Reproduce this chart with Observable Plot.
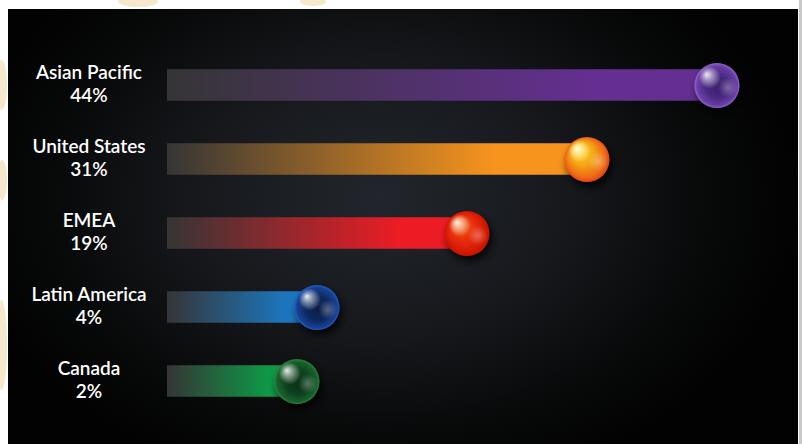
<!DOCTYPE html>
<html>
<head>
<meta charset="utf-8">
<script src="https://cdn.jsdelivr.net/npm/d3@7"></script>
<script src="https://cdn.jsdelivr.net/npm/@observablehq/plot@0.6"></script>
<style>
  html, body { margin: 0; padding: 0; }
  body { width: 802px; height: 444px; overflow: hidden; background: #ffffff; position: relative; font-family: Lato, "Open Sans", sans-serif; }
  .blob { position: absolute; background: #f5e8cc; border-radius: 50%; }
  #edge { position: absolute; left: 799px; top: 0; width: 3px; height: 444px; background: #c9c9c9; }
  #panel { position: absolute; left: 8px; top: 9px; width: 790px; height: 435px;
    background: radial-gradient(ellipse 420px 300px at 372px 190px, #22262c 0%, #16181c 45%, #070808 80%, #020202 100%); }
  #panel svg { display: block; }
</style>
</head>
<body>
<div class="blob" style="left:118px;top:-4px;width:40px;height:11px"></div>
<div class="blob" style="left:300px;top:-3px;width:26px;height:9px"></div>
<div class="blob" style="left:-4px;top:60px;width:11px;height:50px"></div>
<div class="blob" style="left:-3px;top:160px;width:10px;height:40px"></div>
<div class="blob" style="left:-4px;top:300px;width:11px;height:90px"></div>
<div id="edge"></div>
<div id="panel"></div>
<script>
// ---- data ----
const regions = ["Asian Pacific", "United States", "EMEA", "Latin America", "Canada"];
const shares = [44, 31, 19, 4, 2];

// ---- style ----
const barColors = ["#652f92", "#f7941d", "#ed1c24", "#1c75bc", "#0f9847"];
const ballStops = [
  ["#3a1f6a", "#4a2a80", "#6a3fa8", "#9a74d6"],
  ["#ffe41c", "#f6a512", "#ee6a12", "#e33c18"],
  ["#f37b1c", "#e8300c", "#d41a04", "#c21000"],
  ["#0a1c42", "#0e285e", "#163f8f", "#2566d8"],
  ["#0a3016", "#0d401f", "#17602b", "#2f8c40"]
];
const ballFocus = [[55, 55], [28, 22], [30, 24], [55, 55], [55, 55]];
const baseline = -10.94;

const data = regions.map((region, i) => ({region, share: shares[i], i}));

const svg = Plot.plot({
  width: 790,
  height: 435,
  marginLeft: 159,
  marginRight: 10,
  marginTop: 37.75,
  marginBottom: 24.75,
  style: {background: "transparent", color: "white", overflow: "visible"},
  x: {domain: [baseline, 51.16], axis: null},
  y: {domain: regions, padding: 0, axis: null},
  color: {type: "identity"},
  marks: [
    Plot.barX(data, {x1: baseline, x2: "share", y: "region", insetTop: 21.25, insetBottom: 21.25,
      fill: d => `url(#bar${d.i})`}),
    Plot.dot(data, {x: "share", y: "region", r: 22.5, fill: d => `url(#ball${d.i})`, stroke: "none"}),
    Plot.dot(data, {x: "share", y: "region", r: 10, dx: 11, dy: 2, fill: "url(#hl2)", stroke: "none"}),
    Plot.dot(data, {x: "share", y: "region", r: 11, dx: -7, dy: -8, fill: "url(#hl1)", stroke: "none"}),
    Plot.text(data, {x: baseline, y: "region", dx: -78.5, dy: -2.5, text: d => `${d.region}\n${d.share}%`,
      fill: "white", fontSize: 19, fontWeight: 600, lineHeight: 1.2, textAnchor: "middle",
      fontFamily: "Lato, 'Open Sans', sans-serif"})
  ]
});

const s = d3.select(svg);
const defs = s.insert("defs", ":first-child");
data.forEach(d => {
  const g = defs.append("linearGradient").attr("id", `bar${d.i}`).attr("x1", 0).attr("x2", 1).attr("y1", 0).attr("y2", 0);
  g.append("stop").attr("offset", 0).attr("stop-color", "#353535");
  g.append("stop").attr("offset", 0.78).attr("stop-color", barColors[d.i]);
  g.append("stop").attr("offset", 1).attr("stop-color", barColors[d.i]);
  const r = defs.append("radialGradient").attr("id", `ball${d.i}`)
    .attr("cx", "50%").attr("cy", "50%").attr("r", "52%")
    .attr("fx", ballFocus[d.i][0] + "%").attr("fy", ballFocus[d.i][1] + "%");
  [0, 0.5, 0.85, 1].forEach((o, k) => r.append("stop").attr("offset", o).attr("stop-color", ballStops[d.i][k]));
});
const h1 = defs.append("radialGradient").attr("id", "hl1").attr("fx", "35%").attr("fy", "35%");
h1.append("stop").attr("offset", 0).attr("stop-color", "white").attr("stop-opacity", 0.9);
h1.append("stop").attr("offset", 0.35).attr("stop-color", "white").attr("stop-opacity", 0.55);
h1.append("stop").attr("offset", 1).attr("stop-color", "white").attr("stop-opacity", 0);
const h2 = defs.append("radialGradient").attr("id", "hl2");
h2.append("stop").attr("offset", 0).attr("stop-color", "white").attr("stop-opacity", 0.3);
h2.append("stop").attr("offset", 1).attr("stop-color", "white").attr("stop-opacity", 0);
const f = defs.append("filter").attr("id", "shadow").attr("x", "-50%").attr("y", "-50%").attr("width", "200%").attr("height", "200%");
f.append("feDropShadow").attr("dx", 3).attr("dy", 5).attr("stdDeviation", 4).attr("flood-color", "#000").attr("flood-opacity", 0.85);
const dotGroups = s.selectAll("g[aria-label=dot]").nodes();
if (dotGroups.length) d3.select(dotGroups[0]).attr("filter", "url(#shadow)");

document.getElementById("panel").appendChild(svg);
</script>
</body>
</html>
